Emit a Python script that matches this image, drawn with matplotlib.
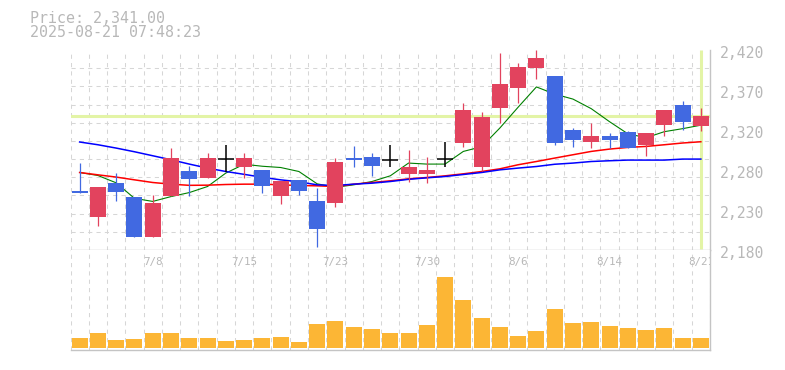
import numpy as np
import matplotlib
matplotlib.use("Agg")
import matplotlib.pyplot as plt
import matplotlib.transforms as mtransforms

# ---------------- data ----------------
dates = ["7/2", "7/3", "7/4", "7/7", "7/8", "7/9", "7/10", "7/11", "7/14", "7/15",
         "7/16", "7/17", "7/18", "7/22", "7/23", "7/24", "7/25", "7/28", "7/29", "7/30",
         "7/31", "8/1", "8/4", "8/5", "8/6", "8/7", "8/8", "8/12", "8/13", "8/14",
         "8/15", "8/18", "8/19", "8/20", "8/21"]
opens = [2251, 2220, 2261, 2244, 2196, 2245, 2275, 2267, 2289, 2280,
         2276, 2245, 2264, 2239, 2236, 2291, 2291, 2288, 2271, 2271,
         2289, 2308, 2280, 2350, 2375, 2399, 2389, 2324, 2310, 2317,
         2321, 2306, 2330, 2354, 2329]
closes = [2248, 2256, 2250, 2196, 2237, 2290, 2265, 2290, 2289, 2290,
          2257, 2263, 2251, 2205, 2286, 2288, 2281, 2288, 2280, 2276,
          2289, 2348, 2340, 2379, 2400, 2411, 2309, 2312, 2317, 2312,
          2302, 2320, 2348, 2334, 2341]
highs = [2285, 2256, 2273, 2244, 2246, 2303, 2281, 2297, 2306, 2297,
         2276, 2263, 2264, 2254, 2291, 2305, 2296, 2306, 2300, 2292,
         2310, 2357, 2346, 2416, 2405, 2420, 2389, 2327, 2332, 2321,
         2323, 2320, 2348, 2359, 2351]
lows = [2248, 2209, 2239, 2196, 2196, 2245, 2245, 2267, 2274, 2267,
        2248, 2235, 2246, 2184, 2232, 2280, 2269, 2280, 2262, 2260,
        2280, 2304, 2275, 2332, 2356, 2385, 2306, 2304, 2302, 2302,
        2302, 2293, 2317, 2324, 2323]
volumes = [10000, 15000, 8000, 9000, 15000, 15000, 10000, 10000, 7000, 8000,
           10000, 11000, 6000, 24000, 27000, 21000, 19000, 15000, 15000, 23000,
           71000, 48000, 30000, 21000, 12000, 17000, 39000, 25000, 26000, 22000,
           20000, 18000, 20000, 10000, 10000]
ma_short = [2273.0, 2269.4, 2260.6, 2242.0, 2238.3, 2244.1, 2248.9, 2256.2, 2272.3, 2282.9,
            2280.5, 2279.0, 2274.2, 2259.4, 2255.2, 2258.2, 2262.2, 2269.0, 2284.3, 2283.1,
            2283.1, 2298.3, 2303.9, 2326.4, 2351.4, 2375.7, 2367.1, 2361.1, 2349.6, 2334.0,
            2319.5, 2314.7, 2322.0, 2325.6, 2329.8]
ma_mid = [2273.0, 2270.2, 2267.5, 2264.2, 2261.0, 2259.0, 2257.6, 2257.8, 2258.6, 2259.0,
          2259.0, 2258.2, 2257.4, 2257.0, 2256.2, 2259.0, 2261.0, 2263.0, 2265.4, 2267.0,
          2269.0, 2271.4, 2274.2, 2277.4, 2282.3, 2286.2, 2290.3, 2294.3, 2298.3, 2301.1,
          2303.1, 2304.3, 2306.3, 2308.4, 2309.9]
ma_long = [2309.6, 2306.3, 2302.3, 2297.9, 2293.1, 2288.3, 2283.1, 2278.3, 2274.2, 2270.8,
           2267.2, 2264.2, 2261.8, 2258.2, 2257.4, 2259.0, 2260.2, 2262.2, 2264.8, 2266.6,
           2268.2, 2270.6, 2273.0, 2276.2, 2278.3, 2280.2, 2282.9, 2284.3, 2286.2, 2287.1,
           2287.9, 2287.9, 2287.9, 2289.1, 2289.1]
last_price = 2341.00
timestamp = "2025-08-21 07:48:23"
y_min, y_max = 2180, 2420

# ---------------- style ----------------
RED = "#e2435e"
BLUE = "#4169e1"
VOL = "#fcb635"
GRID = "#d6d6d6"
SPINE = "#c4c4c4"
TXT = "#b8b8b8"
HL = "#e3f4a6"
MONO = "DejaVu Sans Mono"

W, H = 785, 370
fig = plt.figure(figsize=(W / 100, H / 100), dpi=100)

L, R = 70.5, 710.0
ax = fig.add_axes([L / W, (H - 250) / H, (R - L) / W, 200 / H])
axv = fig.add_axes([L / W, (H - 350) / H, (R - L) / W, 100 / H])

n = len(dates)
x = np.arange(n)
bw = 0.875

for a in (ax, axv):
    a.set_xlim(-0.5, n - 0.5)
    a.set_facecolor("white")
    for s in ("left", "top"):
        a.spines[s].set_visible(False)
    for s in ("right", "bottom"):
        a.spines[s].set_color(SPINE)
        a.spines[s].set_linewidth(1.0)
    a.set_xticks(np.arange(-0.5, n, 1.0), minor=True)
    a.set_xticks([])
    a.grid(which="minor", axis="x", color=GRID, linestyle=(0, (4, 4)), linewidth=0.75)
    a.set_axisbelow(True)
    a.tick_params(which="both", length=0)

# price axis
ax.set_ylim(y_min, y_max)
ax.set_yticks(np.linspace(y_min, y_max, 12), minor=True)
ax.grid(which="minor", axis="y", color=GRID, linestyle=(0, (4, 4)), linewidth=0.75)
major = np.linspace(y_min, y_max, 6)
ax.set_yticks(major)
ax.set_yticklabels([f"{round(v, -1):,.0f}" for v in major])
ax.yaxis.tick_right()
ax.tick_params(axis="y", which="major", length=0, pad=7.2, labelsize=10.6,
               labelcolor=TXT)
shift = mtransforms.ScaledTranslation(0, -2.0 / 100, fig.dpi_scale_trans)
for t in ax.yaxis.get_major_ticks():
    t.label2.set_fontfamily(MONO)
    t.label2.set_transform(t.label2.get_transform() + shift)

# current price highlight lines
ax.axhline(last_price, color=HL, linewidth=2.2, zorder=1)
ax.plot([x[-1], x[-1]], [y_min + 1.5, y_max], color=HL, linewidth=2.2, zorder=1,
        solid_capstyle="butt")

# moving averages
ax.plot(x, ma_short, color="#008000", linewidth=0.8, zorder=2)
ax.plot(x, ma_mid, color="#ff0000", linewidth=1.1, zorder=2)
ax.plot(x, ma_long, color="#0000ff", linewidth=1.1, zorder=2)

# candles
for i in range(n):
    o, c, h, l = opens[i], closes[i], highs[i], lows[i]
    if o == c:
        ax.vlines(i, l, h, color="black", linewidth=1.1, zorder=4)
        ax.hlines(c, i - bw / 2, i + bw / 2, color="black", linewidth=1.1, zorder=4)
        continue
    col = RED if c > o else BLUE
    ax.vlines(i, l, h, color=col, linewidth=0.9, zorder=3)
    ax.bar(i, abs(c - o), bottom=min(o, c), width=bw, color=col, linewidth=0, zorder=3)

# volume axis
axv.set_ylim(-2000, 98000)
axv.set_yticks([])
axv.bar(x, volumes, width=bw, color=VOL, linewidth=0, zorder=2)

trans = mtransforms.blended_transform_factory(axv.transData, axv.transAxes)
for i in range(4, n, 5):
    axv.text(i, 0.88, dates[i], transform=trans, ha="center", va="center",
             fontsize=7.8, color=TXT, family=MONO, clip_on=True)

# header texts
fig.text(29.5 / W, 1 - 23.3 / H, f"Price: {last_price:,.2f}", fontsize=10.8,
         family=MONO, color=TXT, va="baseline", ha="left")
fig.text(29.5 / W, 1 - 37.3 / H, timestamp, fontsize=10.8,
         family=MONO, color=TXT, va="baseline", ha="left")

fig.savefig("out.png", dpi=100, facecolor="white")
